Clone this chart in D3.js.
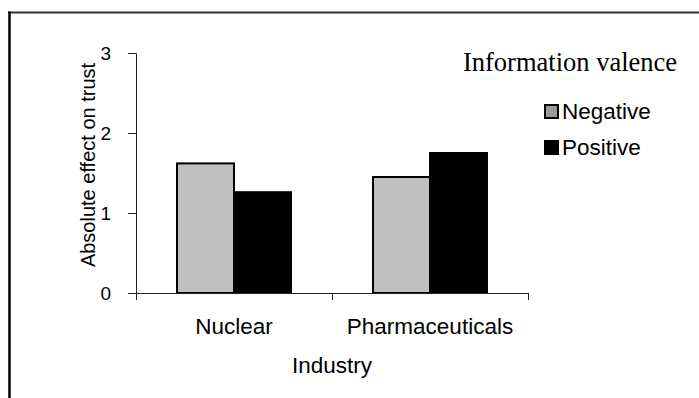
<!DOCTYPE html>
<html>
<head>
<meta charset="utf-8">
<script src="https://cdn.jsdelivr.net/npm/d3@7"></script>
<style>
  html, body { margin: 0; padding: 0; background: #fff; }
  svg { display: block; }
</style>
</head>
<body>
<svg id="chart" width="699" height="398"></svg>
<script>
// Absolute effect on trust by industry and information valence
const industries = ["Nuclear", "Pharmaceuticals"];
const valences = ["Negative", "Positive"];
const negativeValues = [1.62, 1.45];
const positiveValues = [1.26, 1.75];
const yTicks = [0, 1, 2, 3];

const svg = d3.select("#chart");
const W = 699, H = 398;
const sans = "Liberation Sans, Arial, sans-serif";
const serif = "Liberation Serif, Times New Roman, serif";

// outer frame (top and left edges)
svg.append("line").attr("x1", 8).attr("x2", W).attr("y1", 12.5).attr("y2", 12.5)
  .attr("stroke", "#333").attr("stroke-width", 2);
svg.append("line").attr("x1", 9.5).attr("x2", 9.5).attr("y1", 11.5).attr("y2", H)
  .attr("stroke", "#000").attr("stroke-width", 2.5);

const plot = { left: 136, right: 528, top: 53, bottom: 293 };

const y = d3.scaleLinear().domain([0, 3]).range([plot.bottom, plot.top]);
const x0 = d3.scaleBand().domain(industries).range([plot.left, plot.right]).paddingInner(0).paddingOuter(0);
const x1 = d3.scaleBand().domain(valences).range([0, x0.bandwidth()]).paddingOuter(0.72).paddingInner(0);

const colors = { Negative: "#c0c0c0", Positive: "#000000" };

const rows = industries.map((ind, i) => ({
  industry: ind,
  values: [
    { key: "Negative", value: negativeValues[i] },
    { key: "Positive", value: positiveValues[i] }
  ]
}));

// bars
const groups = svg.append("g").selectAll("g").data(rows).join("g")
  .attr("transform", d => `translate(${x0(d.industry)},0)`);
groups.selectAll("rect").data(d => d.values).join("rect")
  .attr("x", d => x1(d.key))
  .attr("y", d => y(d.value))
  .attr("width", x1.bandwidth())
  .attr("height", d => y(0) - y(d.value))
  .attr("fill", d => colors[d.key])
  .attr("stroke", "#000")
  .attr("stroke-width", 2);

// y axis
const yAxis = svg.append("g").attr("transform", `translate(${plot.left},0)`)
  .call(d3.axisLeft(y).tickValues(yTicks).tickFormat(d3.format("d")).tickSize(8).tickPadding(17));
yAxis.select(".domain").attr("stroke", "#222").attr("stroke-width", 1);
yAxis.selectAll(".tick line").attr("stroke", "#222");
yAxis.selectAll("text").attr("font-family", sans)
  .attr("font-size", 19).attr("fill", "#000");

// x axis with ticks at category boundaries
const xAxisG = svg.append("g").attr("transform", `translate(0,${plot.bottom})`);
xAxisG.append("line").attr("x1", plot.left - 8).attr("x2", plot.right).attr("y1", 0.5).attr("y2", 0.5)
  .attr("stroke", "#222");
const bounds = [plot.left, ...industries.map(d => x0(d) + x0.bandwidth())];
xAxisG.selectAll(".bt").data(bounds).join("line").attr("class", "bt")
  .attr("x1", d => Math.round(d) + 0.5).attr("x2", d => Math.round(d) + 0.5)
  .attr("y1", 0).attr("y2", 7).attr("stroke", "#222");
xAxisG.selectAll(".lbl").data(industries).join("text").attr("class", "lbl")
  .attr("x", d => x0(d) + x0.bandwidth() / 2)
  .attr("y", 41)
  .attr("text-anchor", "middle")
  .attr("font-family", sans)
  .attr("font-size", 22.5)
  .text(d => d);

// axis titles
svg.append("text")
  .attr("x", (plot.left + plot.right) / 2).attr("y", 373)
  .attr("text-anchor", "middle")
  .attr("font-family", sans)
  .attr("font-size", 22.5)
  .text("Industry");
svg.append("text")
  .attr("transform", `translate(95,165) rotate(-90)`)
  .attr("text-anchor", "middle")
  .attr("font-family", sans)
  .attr("font-size", 20)
  .text("Absolute effect on trust");

// legend
svg.append("text")
  .attr("x", 570).attr("y", 71)
  .attr("text-anchor", "middle")
  .attr("font-family", serif)
  .attr("font-size", 26.5)
  .text("Information valence");
const legendColors = { Negative: "#999999", Positive: "#000000" };
const leg = svg.append("g").selectAll("g").data(valences).join("g")
  .attr("transform", (d, i) => `translate(545,${105 + i * 36})`);
leg.append("rect").attr("x", 0).attr("y", 0).attr("width", 13).attr("height", 13)
  .attr("fill", d => legendColors[d]).attr("stroke", "#000").attr("stroke-width", 2);
leg.append("text").attr("x", 17).attr("y", 14)
  .attr("font-family", sans)
  .attr("font-size", 22.5)
  .text(d => d);
</script>
</body>
</html>
